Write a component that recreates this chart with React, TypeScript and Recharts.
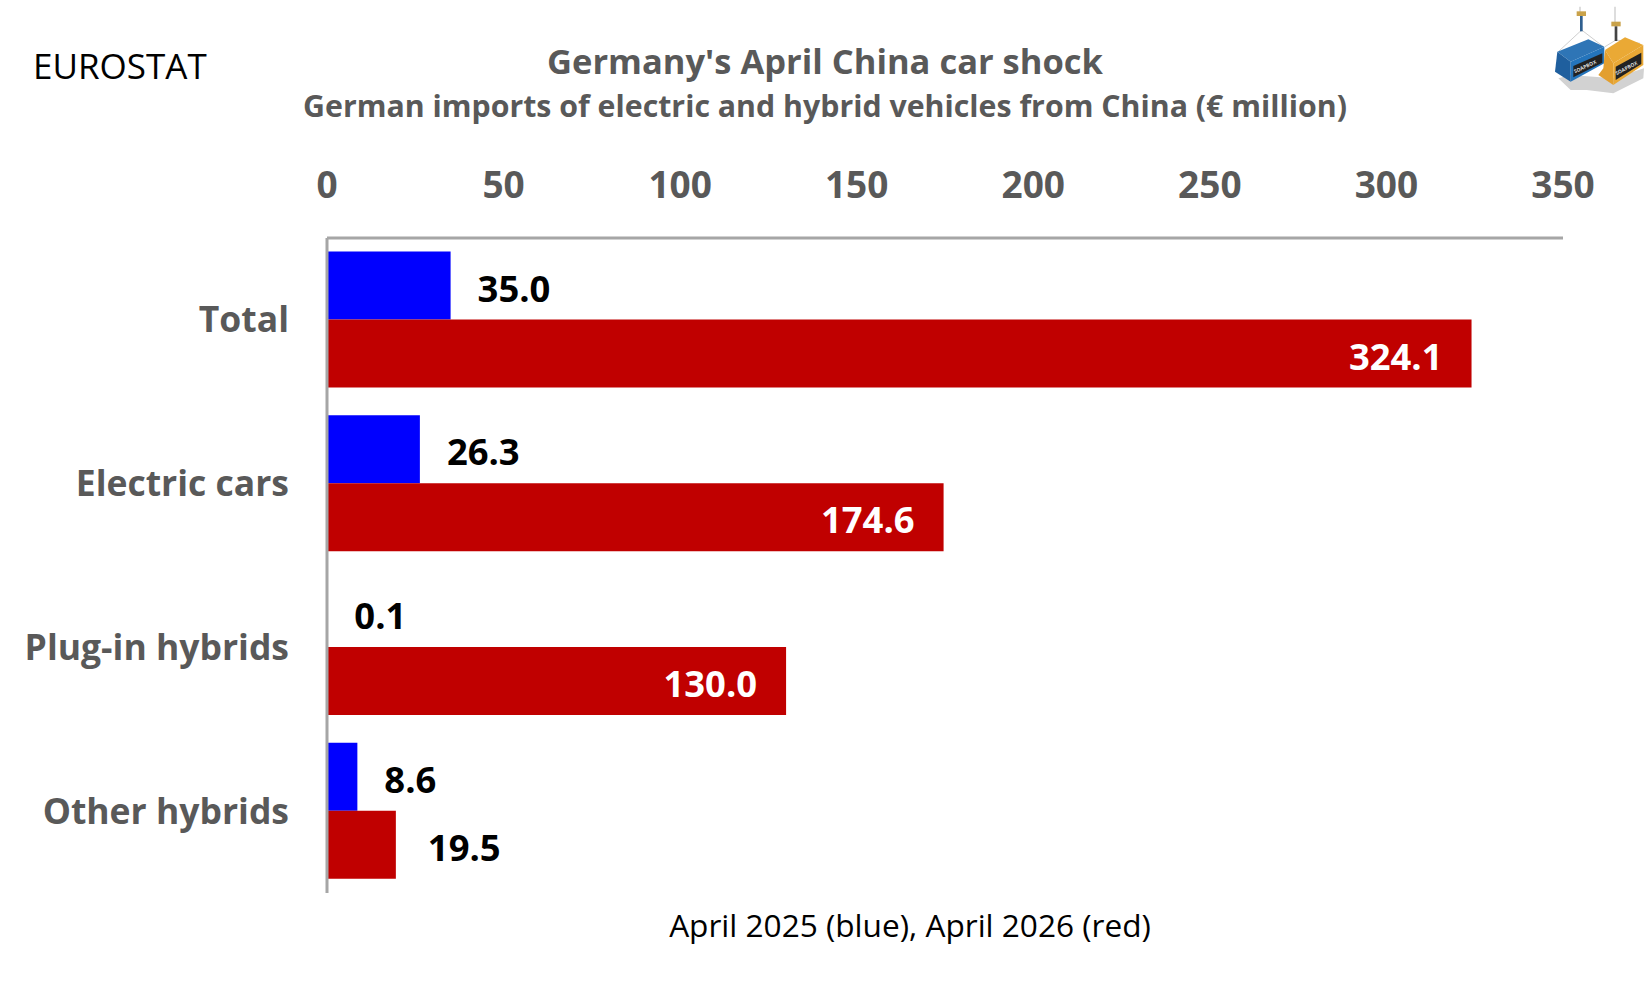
import { BarChart, Bar, XAxis, YAxis, LabelList } from 'recharts';

const categories = ['Total', 'Electric cars', 'Plug-in hybrids', 'Other hybrids'];
const april2025 = [35.0, 26.3, 0.1, 8.6];
const april2026 = [324.1, 174.6, 130.0, 19.5];
const xTicks = [0, 50, 100, 150, 200, 250, 300, 350];

const data = categories.map((name, i) => ({
  name,
  april2025: april2025[i],
  april2026: april2026[i],
}));

const FONT = '"Open Sans", "Noto Sans", sans-serif';
const GREY = '#595959';

// blue labels always sit outside, red ones inside unless the bar is too short
function valueLabel(props: any) {
  const { x, y, width, height, value } = props;
  const inside = value > 100;
  return (
    <text
      x={inside ? x + width - 29 : x + width + (value === 19.5 ? 32 : 27)}
      y={y + height / 2 + 3}
      dy="0.36em"
      textAnchor={inside ? 'end' : 'start'}
      fontFamily={FONT}
      fontWeight={700}
      fontSize={36.4}
      fill={inside ? '#ffffff' : '#000000'}
    >
      {value.toFixed(1)}
    </text>
  );
}

// rough copy of the two hanging containers, drawn in 3x crop units
function Logo() {
  return (
    <svg width={210} height={110} viewBox="0 0 630 330" style={{ position: 'absolute', left: 1440, top: 0 }}>
      <polygon points="355,235 392,225 520,235 612,205 610,235 520,280 440,270 392,270" fill="#d2d2d2" />
      <line x1="420" y1="20" x2="420" y2="40" stroke="#cccccc" strokeWidth={4} />
      <line x1="525" y1="20" x2="525" y2="70" stroke="#cccccc" strokeWidth={4} />
      <polyline points="355,155 425,90 490,140" fill="none" stroke="#b5b5b5" strokeWidth={2} />
      <polyline points="495,140 528,120 600,130" fill="none" stroke="#b5b5b5" strokeWidth={2} />
      <rect x="410" y="34" width="28" height="14" fill="#c9a24a" />
      <rect x="420" y="48" width="8" height="46" fill="#2f5f8f" />
      <rect x="514" y="65" width="28" height="14" fill="#c9a24a" />
      <rect x="524" y="79" width="8" height="44" fill="#444444" />
      <polygon points="352,155 445,118 493,140 392,185" fill="#2e75b6" />
      <polygon points="352,155 392,185 392,245 345,215" fill="#1f5f9e" />
      <polygon points="392,185 493,140 493,190 392,245" fill="#2474bb" />
      <polygon points="400,198 487,160 487,188 400,232" fill="#222222" />
      <text x="405" y="220" fontFamily={FONT} fontSize={15} fontWeight={700} fill="#dddddd" transform="rotate(-25 405 220)">SOAPBOX</text>
      <polygon points="495,150 555,112 610,135 520,190" fill="#eaa935" />
      <polygon points="495,150 520,190 520,255 475,225 490,205" fill="#e39f2e" />
      <polygon points="520,190 610,135 610,195 520,255" fill="#e9a835" />
      <polygon points="527,200 604,158 604,192 527,240" fill="#222222" />
      <text x="530" y="226" fontFamily={FONT} fontSize={15} fontWeight={700} fill="#dddddd" transform="rotate(-28 530 226)">SOAPBOX</text>
    </svg>
  );
}

export default function App() {
  return (
    <div style={{ position: 'absolute', left: 0, top: 0, width: 1650, height: 990, background: '#fff', fontFamily: FONT }}>
      <div style={{ position: 'absolute', left: 33, top: 42, fontSize: 35, color: '#000' }}>EUROSTAT</div>
      <div style={{ position: 'absolute', left: 0, width: 1650, textAlign: 'center', top: 37, fontSize: 34.5, fontWeight: 700, color: GREY }}>
        Germany's April China car shock
      </div>
      <div style={{ position: 'absolute', left: 0, width: 1650, textAlign: 'center', top: 85, fontSize: 30.3, fontWeight: 700, color: GREY }}>
        German imports of electric and hybrid vehicles from China (€ million)
      </div>
      <BarChart
        width={1650}
        height={990}
        data={data}
        layout="vertical"
        barGap={0}
        barCategoryGap={13.4}
        margin={{ top: 178, right: 87, bottom: 97, left: 0 }}
      >
        <XAxis
          type="number"
          orientation="top"
          domain={[0, 350]}
          ticks={xTicks}
          interval={0}
          height={60}
          tickLine={false}
          tickMargin={34.5}
          axisLine={{ stroke: '#a6a6a6', strokeWidth: 3 }}
          tick={{ fontFamily: FONT, fontSize: 37, fontWeight: 700, fill: GREY }}
        />
        <YAxis
          type="category"
          dataKey="name"
          width={327}
          tickLine={false}
          tickMargin={32}
          axisLine={{ stroke: '#a6a6a6', strokeWidth: 3 }}
          tick={{ fontFamily: FONT, fontSize: 35.5, fontWeight: 700, fill: GREY }}
        />
        <Bar dataKey="april2025" fill="#0000ff" isAnimationActive={false}>
          <LabelList dataKey="april2025" content={valueLabel} />
        </Bar>
        <Bar dataKey="april2026" fill="#c00000" isAnimationActive={false}>
          <LabelList dataKey="april2026" content={valueLabel} />
        </Bar>
      </BarChart>
      <div style={{ position: 'absolute', left: 0, width: 1820, textAlign: 'center', top: 903, fontSize: 31.6, color: '#000' }}>
        April 2025 (blue), April 2026 (red)
      </div>
      <Logo />
    </div>
  );
}
